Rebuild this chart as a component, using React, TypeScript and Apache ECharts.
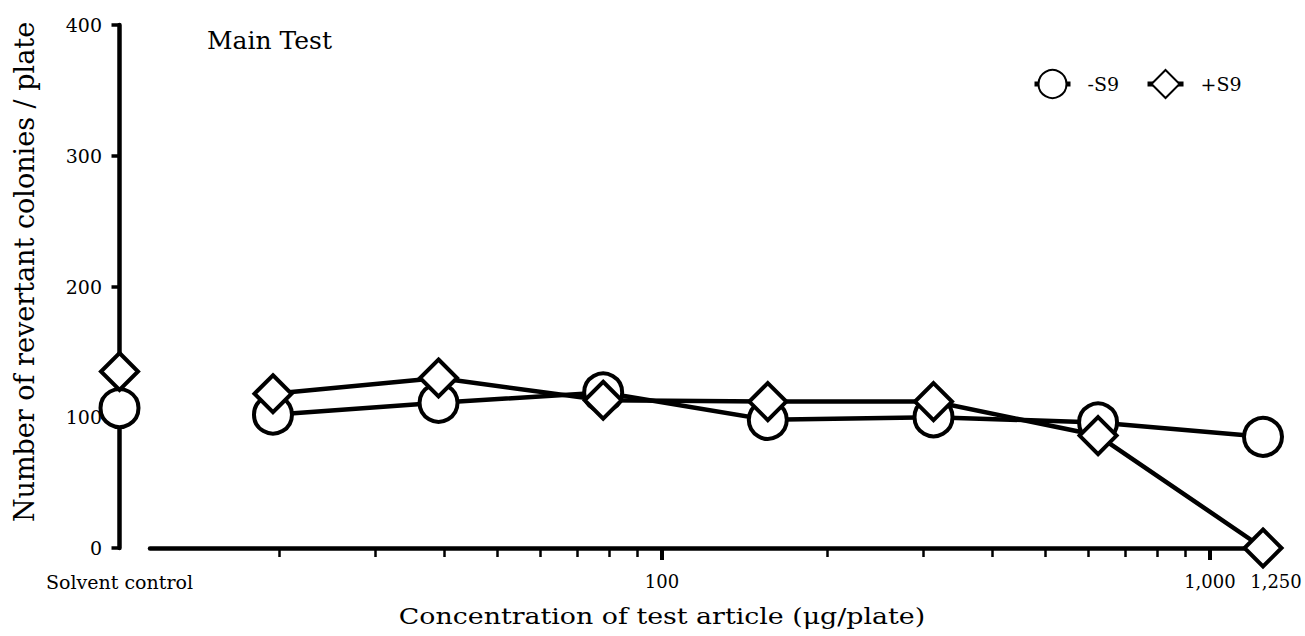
import React, { useEffect, useRef } from "react";
import * as echarts from "echarts";

// Concentrations (µg/plate) of the test article
const concentrations = [19.5, 39.1, 78.1, 156, 313, 625, 1250];
// Number of revertant colonies / plate
const minusS9 = [102, 111, 119, 98, 100, 96, 85];
const plusS9 = [118, 130, 113, 112, 112, 86, 0];
const solventMinusS9 = [107];
const solventPlusS9 = [135];

const seriesNames = ["-S9", "+S9"];
const xMinorTicks = [20, 30, 40, 50, 60, 70, 80, 90, 200, 300, 400, 500, 600, 700, 800, 900];
const xMajorTicks = [100, 1000];
const xLabelValues = [100, 1000, 1250];
const xLabelTexts = ["100", "1,000", "1,250"];
const solventLabel = "Solvent control";
const chartTitle = "Main Test";
const xTitle = "Concentration of test article (μg/plate)";
const yTitle = "Number of revertant colonies / plate";

const FONT = "'DejaVu Serif', 'Liberation Serif', serif";

export default function App() {
  const ref = useRef<HTMLDivElement>(null);
  useEffect(() => {
    if (!ref.current) return;
    const chart = echarts.init(ref.current, undefined, { renderer: "svg" });
    const markerStyle = { color: "#fff", borderColor: "#000", borderWidth: 4, opacity: 1 };
    const option: any = {
      animation: false,
      backgroundColor: "#fff",
      legend: {
        data: seriesNames,
        left: 1032,
        top: 69,
        padding: 0,
        itemWidth: 36,
        itemHeight: 35,
        itemGap: 26,
        lineStyle: { width: 5, color: "#000" },
        textStyle: { fontFamily: FONT, fontSize: 19, color: "#000", padding: [0, 0, 0, 12] },
      },
      grid: [
        { left: 150, right: 42, top: 25, bottom: 88 },
        { left: 119, width: 1, top: 25, bottom: 88 },
      ],
      xAxis: [
        {
          type: "log",
          logBase: 10,
          gridIndex: 0,
          position: "bottom",
          min: 11.63,
          max: 1250,
          axisLine: { show: true, lineStyle: { color: "#000", width: 4.5 } },
          axisTick: { show: true, customValues: xMinorTicks, length: 9, lineStyle: { color: "#000", width: 2.5 } },
          axisLabel: { show: false },
          splitLine: { show: false },
          minorTick: { show: false },
        },
        {
          type: "log",
          logBase: 10,
          gridIndex: 0,
          position: "bottom",
          min: 11.63,
          max: 1250,
          axisLine: { show: false },
          axisTick: { show: true, customValues: xMajorTicks, length: 12, lineStyle: { color: "#000", width: 4 } },
          axisLabel: {
            show: true,
            customValues: xLabelValues,
            formatter: (v: number) => {
              const i = xLabelValues.findIndex((x) => Math.abs(x - v) < 1e-6);
              if (i < 0) return "";
              return i === xLabelValues.length - 1 ? "{r|" + xLabelTexts[i] + "}" : xLabelTexts[i];
            },
            rich: { r: { padding: [0, 0, 0, 26], fontFamily: FONT, fontSize: 18, color: "#000" } },
            margin: 24,
            fontFamily: FONT,
            fontSize: 18,
            color: "#000",
          },
          splitLine: { show: false },
        },
        {
          type: "value",
          gridIndex: 1,
          min: -1,
          max: 1,
          axisLine: { show: false },
          axisTick: { show: false },
          axisLabel: {
            show: true,
            customValues: [0],
            formatter: () => solventLabel,
            margin: 24,
            fontFamily: FONT,
            fontSize: 19,
            color: "#000",
          },
          splitLine: { show: false },
        },
      ],
      yAxis: [
        { type: "value", gridIndex: 0, min: 0, max: 400, interval: 100, show: false },
        {
          type: "value",
          gridIndex: 1,
          min: 0,
          max: 400,
          interval: 100,
          axisLine: { show: true, lineStyle: { color: "#000", width: 4.5 } },
          axisTick: { show: true, length: 8, lineStyle: { color: "#000", width: 3.5 } },
          axisLabel: { margin: 17, fontFamily: FONT, fontSize: 19, color: "#000" },
          splitLine: { show: false },
        },
      ],
      graphic: [
        {
          type: "text",
          x: 207,
          y: 40,
          style: { text: chartTitle, fontFamily: FONT, fontSize: 25, fill: "#000", align: "left", verticalAlign: "middle" },
        },
        {
          type: "text",
          x: 662,
          y: 616,
          scaleX: 1.22,
          style: { text: xTitle, fontFamily: FONT, fontSize: 22, fill: "#000", align: "center", verticalAlign: "middle" },
        },
        {
          type: "text",
          x: 24,
          y: 272,
          rotation: Math.PI / 2,
          style: { text: yTitle, fontFamily: FONT, fontSize: 27, fill: "#000", align: "center", verticalAlign: "middle" },
        },
      ],
      series: [
        {
          name: seriesNames[0],
          type: "line",
          xAxisIndex: 0,
          yAxisIndex: 0,
          data: concentrations.map((c, i) => [c, minusS9[i]]),
          symbol: "circle",
          symbolSize: 38,
          itemStyle: markerStyle,
          lineStyle: { color: "#000", width: 4.5 },
          clip: false,
          z: 2,
        },
        {
          name: seriesNames[1],
          type: "line",
          xAxisIndex: 0,
          yAxisIndex: 0,
          data: concentrations.map((c, i) => [c, plusS9[i]]),
          symbol: "diamond",
          symbolSize: 37,
          itemStyle: markerStyle,
          lineStyle: { color: "#000", width: 4.5 },
          clip: false,
          z: 3,
        },
        {
          name: "-S9 solvent",
          type: "scatter",
          xAxisIndex: 2,
          yAxisIndex: 1,
          data: solventMinusS9.map((v) => [0, v]),
          symbol: "circle",
          symbolSize: 38,
          itemStyle: markerStyle,
          clip: false,
          z: 4,
        },
        {
          name: "+S9 solvent",
          type: "scatter",
          xAxisIndex: 2,
          yAxisIndex: 1,
          data: solventPlusS9.map((v) => [0, v]),
          symbol: "diamond",
          symbolSize: 37,
          itemStyle: markerStyle,
          clip: false,
          z: 5,
        },
      ],
    };
    chart.setOption(option);
    return () => chart.dispose();
  }, []);
  return <div ref={ref} style={{ position: "fixed", left: 0, top: 0, width: 1305, height: 636 }} />;
}
